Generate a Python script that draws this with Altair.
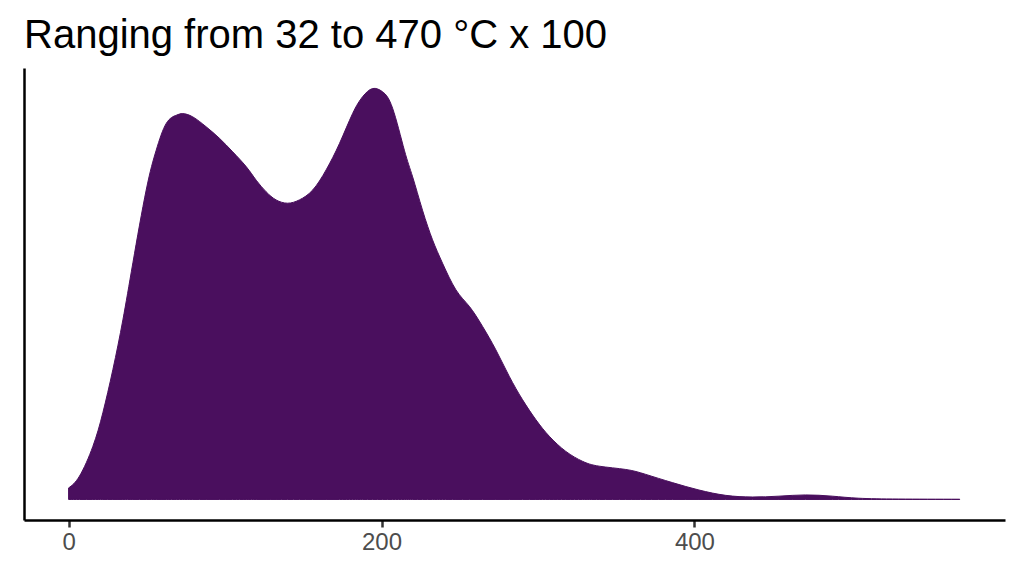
import altair as alt
import pandas as pd

# Temperature (°C x 100 scale as in axis) and relative density (peak = 1)
temp = [0, 7.0, 15.5, 21.9, 28.3, 34.7, 41.1, 49.6, 56.0, 62.4, 68.8, 73.0,
        79.4, 87.9, 96.4, 104.9, 113.5, 119.9, 126.2, 132.6, 140.0, 147.5,
        156.0, 164.6, 173.1, 181.5, 187.9, 194.3, 200.7, 207.1, 214.6, 219.9,
        226.2, 232.6, 239.0, 247.6, 256.1, 264.6, 273.1, 281.6, 290.1, 298.7,
        307.2, 317.8, 328.4, 339.1, 356.1, 368.9, 385.9, 402.9, 420.0, 437.0,
        454.0, 471.0, 488.1, 505.1, 530.6, 569.6]
density = [0.028, 0.057, 0.129, 0.211, 0.316, 0.437, 0.576, 0.753, 0.850, 0.915,
           0.935, 0.939, 0.931, 0.907, 0.879, 0.846, 0.810, 0.777, 0.749, 0.729,
           0.721, 0.729, 0.753, 0.802, 0.866, 0.939, 0.980, 1.0, 0.992, 0.952,
           0.850, 0.785, 0.704, 0.632, 0.575, 0.510, 0.470, 0.421, 0.364, 0.300,
           0.243, 0.194, 0.154, 0.117, 0.093, 0.081, 0.073, 0.061, 0.041, 0.023,
           0.010, 0.006, 0.008, 0.011, 0.008, 0.003, 0.001, 0.0005]
x_ticks = [0, 200, 400]
title_text = "Ranging from 32 to 470 °C x 100"

df = pd.DataFrame({"temp": temp, "density": density})
fill = "#4A0F5E"

chart = alt.Chart(df).mark_area(
    color=fill, stroke=fill, strokeWidth=1, interpolate="natural"
).encode(
    x=alt.X("temp:Q",
            scale=alt.Scale(domain=[-28.5, 598.5], nice=False, zero=False),
            axis=alt.Axis(values=x_ticks, title=None, grid=False,
                          domainColor="black", domainWidth=2.5,
                          tickColor="#333333", tickWidth=2.5, tickSize=7,
                          labelFontSize=24, labelColor="#4D4D4D",
                          labelFont="Liberation Sans", labelPadding=3)),
    y=alt.Y("density:Q",
            scale=alt.Scale(domain=[-0.05, 1.05], nice=False, zero=False),
            axis=alt.Axis(title=None, labels=False, ticks=False, grid=False,
                          domainColor="black", domainWidth=2.5)),
    y2=alt.datum(0),
).properties(
    width=981, height=452,
    title=alt.TitleParams(text=title_text, anchor="start", fontSize=40,
                          font="Liberation Sans", fontWeight="normal",
                          color="black", baseline="alphabetic", offset=18, dy=38),
    autosize=alt.AutoSizeParams(type="none"),
    padding={"left": 16, "top": 60, "right": 11, "bottom": 40},
).configure_view(stroke=None)

chart.save("out.html", embed_options={"renderer": "svg", "actions": False})
